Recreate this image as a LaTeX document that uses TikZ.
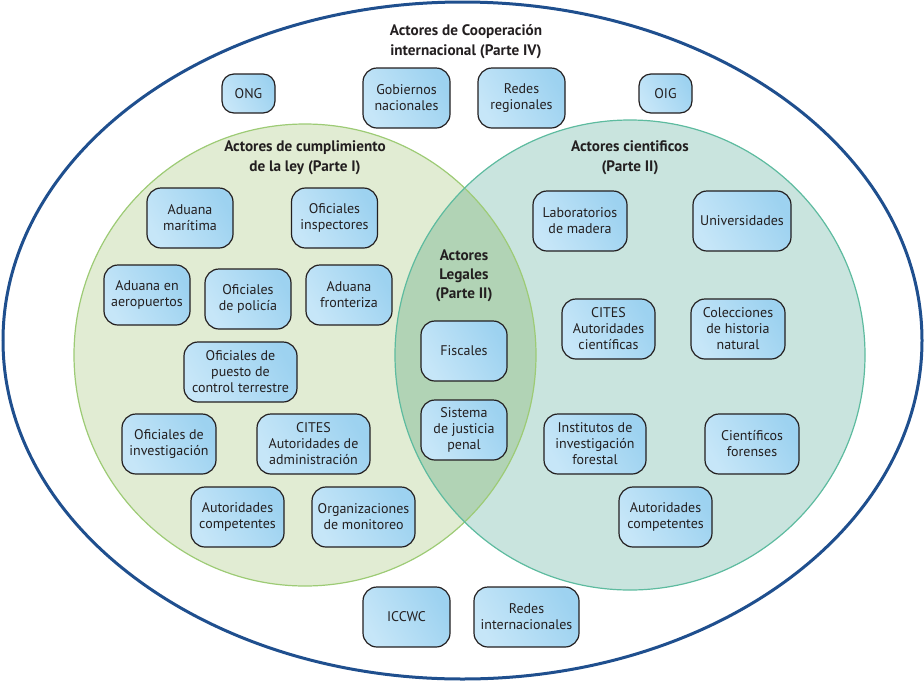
\documentclass[tikz,border=0pt]{standalone}
\usepackage{fontspec}
\setmainfont{PT Sans}
\usetikzlibrary{shadings}

\definecolor{ringblue}{HTML}{1F4F8E}
\definecolor{lawfill}{HTML}{E1ECD3}
\definecolor{lawline}{HTML}{9DCB75}
\definecolor{scifill}{HTML}{C9E4DE}
\definecolor{sciline}{HTML}{5DBB9F}
\definecolor{legalfill}{HTML}{B1D3B5}
\definecolor{boxlight}{HTML}{C6E6F8}
\definecolor{boxdark}{HTML}{9DD2F0}
\definecolor{txtdark}{HTML}{231F20}

\begin{document}
\begin{tikzpicture}[x=1pt,y=-1pt,
    actor/.style={draw=txtdark, line width=1.2pt, rounded corners=14pt,
        left color=boxlight, right color=boxdark, shading angle=120,
        minimum height=60pt, minimum width=#1, inner sep=1pt,
        align=center, text=txtdark, font=\fontsize{14}{16}\selectfont},
    actor/.default=86pt,
    grouptitle/.style={align=center, text=txtdark,
        font=\bfseries\fontsize{15.2}{20}\selectfont}]
    \useasboundingbox (0,0) rectangle (924,681);

    % outer ring: cooperation
    \draw[ringblue, line width=3pt] (462.5,340.5) ellipse (459.5 and 338.5);

    % the two circles and their overlap
    \fill[lawfill] (305,355) circle (231);
    \fill[scifill] (630,355) circle (235);
    \begin{scope}
        \clip (305,355) circle (231);
        \fill[legalfill] (630,355) circle (235);
    \end{scope}
    \draw[lawline, line width=1.2pt] (305,355) circle (231);
    \draw[sciline, line width=1.2pt] (630,355) circle (235);

    % titles
    \node[grouptitle] (coopTitle) at (466,42) {Actores de Cooperación\\internacional (Parte IV)};
    \node[grouptitle] (lawTitle) at (305,158) {Actores de cumplimiento\\de la ley (Parte I)};
    \node[grouptitle] (sciTitle) at (630,158) {Actores cientificos\\(Parte II)};
    \node[grouptitle, font=\bfseries\fontsize{15.2}{19}\selectfont] (legalTitle) at (464,276) {Actores\\Legales\\(Parte II)};

    % cooperation actors
    \node[actor=53pt, minimum height=39pt, rounded corners=12pt] (ong) at (248.5,93.5) {ONG};
    \node[actor=87pt] (gobiernos) at (406.5,98) {Gobiernos\\nacionales};
    \node[actor=87pt] (redesReg) at (521.5,98) {Redes\\regionales};
    \node[actor=53pt, minimum height=39pt, rounded corners=12pt] (oig) at (665.5,93.5) {OIG};
    \node[actor=87pt] (iccwc) at (406.5,617) {ICCWC};
    \node[actor=105pt] (redesInt) at (526.5,617) {Redes\\internacionales};

    % law enforcement actors
    \node[actor] (aduanaMar) at (190,218) {Aduana\\marítima};
    \node[actor] (ofInsp) at (334.5,218) {Oficiales\\inspectores};
    \node[actor] (aduanaAer) at (147,295) {Aduana en\\aeropuertos};
    \node[actor] (ofPol) at (248,299) {Oficiales\\de policía};
    \node[actor] (aduanaFron) at (349,295) {Aduana\\fronteriza};
    \node[actor=113pt] (ofPuesto) at (240.5,372) {Oficiales de\\puesto de\\control terrestre};
    \node[actor=94pt] (ofInv) at (169,444) {Oficiales de\\investigación};
    \node[actor=113pt] (citesAdm) at (313.5,444) {CITES\\Autoridades de\\administración};
    \node[actor=93pt] (autCompL) at (237.5,517) {Autoridades\\competentes};
    \node[actor=103pt] (orgMon) at (363.5,517) {Organizaciones\\de monitoreo};

    % legal actors
    \node[actor] (fiscales) at (464,351) {Fiscales};
    \node[actor] (justicia) at (464,430) {Sistema\\de justicia\\penal};

    % scientific actors
    \node[actor=94pt] (labMad) at (580,221) {Laboratorios\\de madera};
    \node[actor=98pt] (univ) at (742,221) {Universidades};
    \node[actor=93pt] (citesCien) at (608.5,329) {CITES\\Autoridades\\científicas};
    \node[actor=94pt] (colec) at (738,329) {Colecciones\\de historia\\natural};
    \node[actor=102pt] (instFor) at (595,444) {Institutos de\\investigación\\forestal};
    \node[actor=94pt] (cienFor) at (752,444) {Científicos\\forenses};
    \node[actor=93pt] (autCompR) at (665.5,517) {Autoridades\\competentes};
\end{tikzpicture}
\end{document}
